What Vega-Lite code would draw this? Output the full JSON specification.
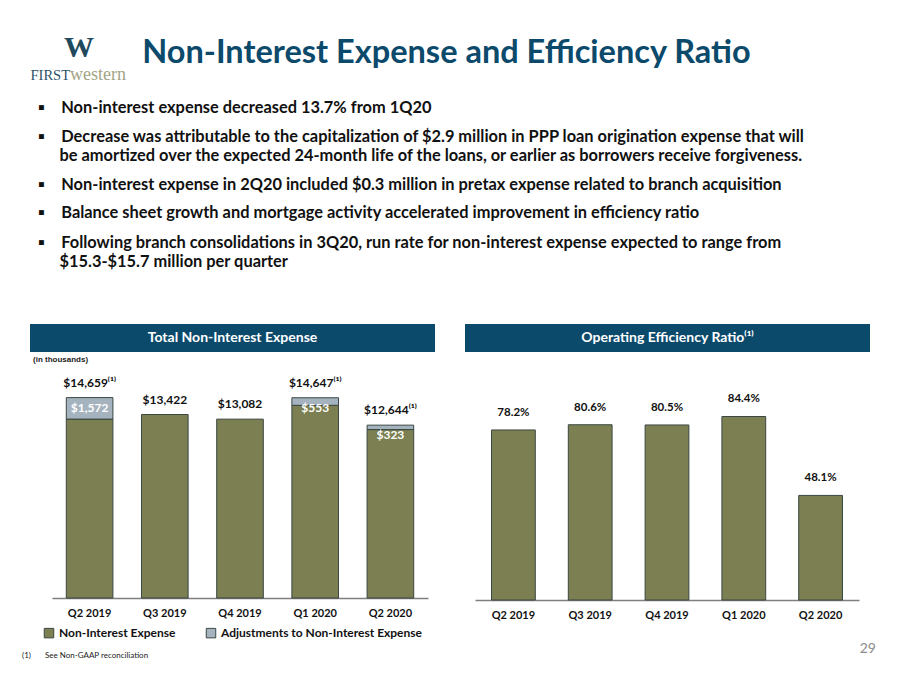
{
  "$schema": "https://vega.github.io/schema/vega-lite/v6.json",
  "background": "white",
  "padding": {"left": 22, "top": 33, "right": 0, "bottom": 0},
  "config": {
    "font": "Lato",
    "view": {"stroke": null},
    "legend": {"layout": {"bottom": {"anchor": "middle"}}}
  },
  "title": {
    "text": "(1)\u2003\u2003 See Non-GAAP reconciliation",
    "orient": "bottom",
    "anchor": "start",
    "dx": -8,
    "dy": -4,
    "font": "Lato",
    "fontSize": 8,
    "fontWeight": "normal",
    "color": "#222222",
    "offset": 0
  },
  "spacing": 15,
  "vconcat": [
    {
      "spacing": 0,
      "hconcat": [
        {
          "width": 98,
          "height": 48,
          "data": {"values": [{"w": "W", "first": "FIRST", "western": "western"}]},
          "layer": [
            {"mark": {"type": "text", "font": "Liberation Serif", "fontWeight": "bold", "fontSize": 30, "color": "#1F4A5E", "baseline": "alphabetic", "dy": -3}, "encoding": {"text": {"field": "w"}}},
            {"mark": {"type": "text", "font": "Liberation Serif", "fontSize": 14.5, "color": "#2A5468", "baseline": "alphabetic", "align": "right", "dx": -9, "dy": 20}, "encoding": {"text": {"field": "first"}}},
            {"mark": {"type": "text", "font": "Liberation Serif", "fontSize": 18, "color": "#A2A485", "baseline": "alphabetic", "align": "left", "dx": -9, "dy": 20}, "encoding": {"text": {"field": "western"}}}
          ]
        },
        {
          "width": 637,
          "height": 48,
          "data": {"values": [{"t": "Non-Interest Expense and Efficiency Ratio"}]},
          "mark": {"type": "text", "font": "Lato", "fontWeight": "bold", "fontSize": 32.5, "color": "#0C4A6C", "baseline": "alphabetic", "dy": 3},
          "encoding": {"text": {"field": "t"}}
        }
      ]
    },
    {
      "title": {
        "text": "▪\u2003\u2005Non-interest expense decreased 13.7% from 1Q20",
        "anchor": "start", "dx": 8, "font": "Lato", "fontSize": 16.4, "fontWeight": "bold", "color": "#111111", "offset": 13
      },
      "vconcat": [
        {
          "title": {
            "text": [
              "▪\u2003\u2005Decrease was attributable to the capitalization of $2.9 million in PPP loan origination expense that will",
              "\u200B\u2003\u2002\u200Abe amortized over the expected 24-month life of the loans, or earlier as borrowers receive forgiveness."
            ],
            "anchor": "start", "dx": 8, "font": "Lato", "fontSize": 16.4, "fontWeight": "bold", "lineHeight": 19, "color": "#111111", "offset": 12
          },
          "vconcat": [
            {
              "title": {
                "text": "▪\u2003\u2005Non-interest expense in 2Q20 included $0.3 million in pretax expense related to branch acquisition",
                "anchor": "start", "dx": 8, "font": "Lato", "fontSize": 16.4, "fontWeight": "bold", "color": "#111111", "offset": 12
              },
              "vconcat": [
                {
                  "title": {
                    "text": "▪\u2003\u2005Balance sheet growth and mortgage activity accelerated improvement in efficiency ratio",
                    "anchor": "start", "dx": 8, "font": "Lato", "fontSize": 16.4, "fontWeight": "bold", "color": "#111111", "offset": 13
                  },
                  "vconcat": [
                    {
                      "title": {
                        "text": [
                          "▪\u2003\u2005Following branch consolidations in 3Q20, run rate for non-interest expense expected to range from",
                          "\u200B\u2003\u2002\u200A$15.3-$15.7 million per quarter"
                        ],
                        "anchor": "start", "dx": 8, "font": "Lato", "fontSize": 16.4, "fontWeight": "bold", "lineHeight": 19, "color": "#111111", "offset": 54
                      },
                      "vconcat": [
                        {
                          "title": {
                            "text": "29",
                            "orient": "bottom",
                            "anchor": "end",
                            "dx": 6,
                            "font": "Lato",
                            "fontSize": 14,
                            "fontWeight": "normal",
                            "color": "#8C8C8C",
                            "offset": 2
                          },
                          "spacing": 30,
                          "resolve": {"scale": {"color": "independent"}, "legend": {"color": "independent"}},
                          "hconcat": [
                            {
                              "spacing": 4,
                              "resolve": {"scale": {"color": "independent"}, "legend": {"color": "independent"}},
                              "vconcat": [
                                {
                                  "width": 405,
                                  "height": 28,
                                  "data": {"values": [{"label": "Total Non-Interest Expense"}]},
                                  "layer": [
                                    {
                                      "mark": {"type": "rect", "color": "#0C4A6C"},
                                      "encoding": {
                                        "x": {"datum": 0, "type": "quantitative", "scale": {"domain": [0, 1]}, "axis": null},
                                        "x2": {"datum": 1}
                                      }
                                    },
                                    {
                                      "mark": {"type": "text", "color": "white", "fontSize": 14, "fontWeight": "bold", "font": "Lato"},
                                      "encoding": {"text": {"field": "label"}}
                                    }
                                  ]
                                },
                                {
                                  "width": 405,
                                  "height": 225,
                                  "title": {
                                    "text": "(in thousands)",
                                    "anchor": "start",
                                    "dx": 3,
                                    "font": "Liberation Sans",
                                    "fontSize": 8,
                                    "fontWeight": "bold",
                                    "color": "#222222",
                                    "offset": 9
                                  },
                                  "layer": [
                                    {
                                      "data": {"values": [
                                        {"quarter": "Q2 2019", "series": "Non-Interest Expense", "value": 13087},
                                        {"quarter": "Q2 2019", "series": "Adjustments to Non-Interest Expense", "value": 1572},
                                        {"quarter": "Q3 2019", "series": "Non-Interest Expense", "value": 13422},
                                        {"quarter": "Q4 2019", "series": "Non-Interest Expense", "value": 13082},
                                        {"quarter": "Q1 2020", "series": "Non-Interest Expense", "value": 14094},
                                        {"quarter": "Q1 2020", "series": "Adjustments to Non-Interest Expense", "value": 553},
                                        {"quarter": "Q2 2020", "series": "Non-Interest Expense", "value": 12321},
                                        {"quarter": "Q2 2020", "series": "Adjustments to Non-Interest Expense", "value": 323}
                                      ]},
                                      "mark": {"type": "bar", "stroke": "#3A4742", "strokeWidth": 1},
                                      "encoding": {
                                        "x": {
                                          "field": "quarter", "type": "nominal", "sort": null,
                                          "scale": {"range": [22, 398], "paddingInner": 0.38, "paddingOuter": 0.19},
                                          "axis": {"title": null, "labelAngle": 0, "ticks": false, "domainColor": "#7F7F7F", "domainWidth": 1.5, "labelFont": "Lato", "labelFontWeight": "bold", "labelFontSize": 11, "labelColor": "#111111", "labelPadding": 9}
                                        },
                                        "y": {
                                          "field": "value", "type": "quantitative",
                                          "scale": {"domain": [0, 16458], "nice": false, "zero": true},
                                          "axis": null
                                        },
                                        "color": {
                                          "field": "series", "type": "nominal",
                                          "scale": {"domain": ["Non-Interest Expense", "Adjustments to Non-Interest Expense"], "range": ["#7B7F51", "#A5B3BE"]},
                                          "legend": {"title": null, "orient": "bottom", "direction": "horizontal", "symbolType": "square", "symbolSize": 90, "symbolStrokeColor": "#3A4742", "symbolStrokeWidth": 1, "labelFont": "Lato", "labelFontWeight": "bold", "labelFontSize": 12, "labelColor": "#111111", "labelLimit": 400, "columnPadding": 28, "offset": 9}
                                        },
                                        "order": {"field": "series", "sort": "descending"}
                                      }
                                    },
                                    {
                                      "data": {"values": [
                                        {"quarter": "Q2 2019", "total": 14659, "label": "$14,659⁽¹⁾"},
                                        {"quarter": "Q3 2019", "total": 13422, "label": "$13,422"},
                                        {"quarter": "Q4 2019", "total": 13082, "label": "$13,082"},
                                        {"quarter": "Q1 2020", "total": 14647, "label": "$14,647⁽¹⁾"},
                                        {"quarter": "Q2 2020", "total": 12644, "label": "$12,644⁽¹⁾"}
                                      ]},
                                      "mark": {"type": "text", "baseline": "bottom", "dy": -8, "fontSize": 12, "fontWeight": "bold", "font": "Lato", "color": "#111111"},
                                      "encoding": {
                                        "x": {"field": "quarter", "type": "nominal", "sort": null},
                                        "y": {"field": "total", "type": "quantitative", "scale": {"domain": [0, 16458], "nice": false, "zero": true}},
                                        "text": {"field": "label"}
                                      }
                                    },
                                    {
                                      "data": {"values": [
                                        {"quarter": "Q2 2019", "total": 14659, "adj": "$1,572"},
                                        {"quarter": "Q1 2020", "total": 14647, "adj": "$553"},
                                        {"quarter": "Q2 2020", "total": 12644, "adj": "$323"}
                                      ]},
                                      "mark": {"type": "text", "baseline": "middle", "dy": 10, "fontSize": 12, "fontWeight": "bold", "font": "Lato", "color": "white"},
                                      "encoding": {
                                        "x": {"field": "quarter", "type": "nominal", "sort": null},
                                        "y": {"field": "total", "type": "quantitative", "scale": {"domain": [0, 16458], "nice": false, "zero": true}},
                                        "text": {"field": "adj"}
                                      }
                                    }
                                  ]
                                }
                              ]
                            },
                            {
                              "spacing": 4,
                              "vconcat": [
                                {
                                  "width": 405,
                                  "height": 28,
                                  "data": {"values": [{"label": "Operating Efficiency Ratio⁽¹⁾"}]},
                                  "layer": [
                                    {
                                      "mark": {"type": "rect", "color": "#0C4A6C"},
                                      "encoding": {
                                        "x": {"datum": 0, "type": "quantitative", "scale": {"domain": [0, 1]}, "axis": null},
                                        "x2": {"datum": 1}
                                      }
                                    },
                                    {
                                      "mark": {"type": "text", "color": "white", "fontSize": 14, "fontWeight": "bold", "font": "Lato"},
                                      "encoding": {"text": {"field": "label"}}
                                    }
                                  ]
                                },
                                {
                                  "width": 405,
                                  "height": 227,
                                  "title": {
                                    "text": " ",
                                    "anchor": "start",
                                    "font": "Liberation Sans",
                                    "fontSize": 8,
                                    "offset": 9
                                  },
                                  "data": {"values": [
                                    {"quarter": "Q2 2019", "ratio": 0.782},
                                    {"quarter": "Q3 2019", "ratio": 0.806},
                                    {"quarter": "Q4 2019", "ratio": 0.805},
                                    {"quarter": "Q1 2020", "ratio": 0.844},
                                    {"quarter": "Q2 2020", "ratio": 0.481}
                                  ]},
                                  "encoding": {
                                    "x": {
                                      "field": "quarter", "type": "nominal", "sort": null,
                                      "scale": {"range": [10, 394], "paddingInner": 0.43, "paddingOuter": 0.215},
                                      "axis": {"title": null, "labelAngle": 0, "ticks": false, "domainColor": "#7F7F7F", "domainWidth": 1.5, "labelFont": "Lato", "labelFontWeight": "bold", "labelFontSize": 11, "labelColor": "#111111", "labelPadding": 9}
                                    },
                                    "y": {
                                      "field": "ratio", "type": "quantitative",
                                      "scale": {"domain": [0, 1.044], "nice": false},
                                      "axis": null
                                    }
                                  },
                                  "layer": [
                                    {"mark": {"type": "bar", "color": "#7B7F51", "stroke": "#3A4742", "strokeWidth": 1}},
                                    {
                                      "mark": {"type": "text", "baseline": "bottom", "dy": -12, "fontSize": 11.5, "fontWeight": "bold", "font": "Lato", "color": "#111111"},
                                      "encoding": {"text": {"field": "ratio", "format": ".1%"}}
                                    }
                                  ]
                                }
                              ]
                            }
                          ]
                        }
                      ]
                    }
                  ]
                }
              ]
            }
          ]
        }
      ]
    }
  ]
}
